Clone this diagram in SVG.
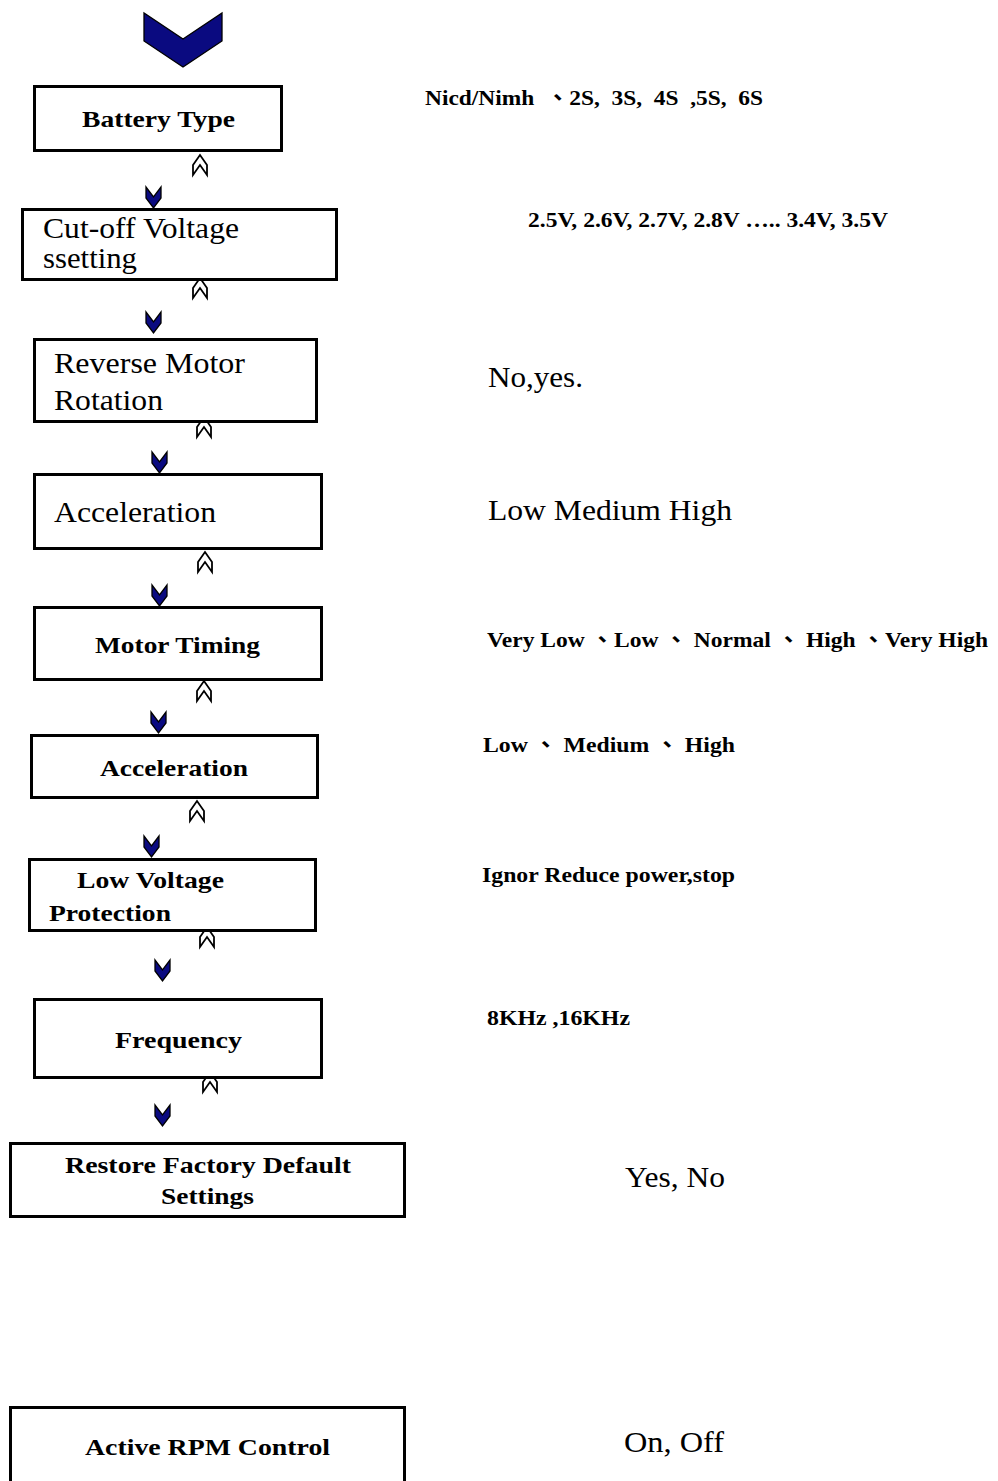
<svg xmlns="http://www.w3.org/2000/svg" width="998" height="1481" viewBox="0 0 998 1481">
<style>
text{font-family:"Liberation Serif","Noto Sans CJK TC",serif;fill:#000}
.b{font-weight:bold;font-size:23px}
.r{font-size:29px}
.ob{font-weight:bold;font-size:22px}
.or{font-size:30px}
.box{fill:#fff;stroke:#000;stroke-width:3}
.dn{fill:#0a0a80;stroke:#000;stroke-width:1.3}
.up{fill:#fff;stroke:#000;stroke-width:1.8}
</style>
<defs>
<polygon id="dchev" points="0,0 0,11 7.5,21 15,11 15,0 7.5,10"/>
<polygon id="uchev" points="0,20 0,10 7,0 14,10 14,20 7,10"/>
</defs>
<g id="connectors">
<polygon class="dn" points="144,13 144,41 183,67 222,41 222,13 183,39"/>
<use href="#uchev" class="up" x="193" y="155"/>
<use href="#uchev" class="up" x="193" y="278"/>
<use href="#uchev" class="up" x="197" y="417"/>
<use href="#uchev" class="up" x="198" y="552"/>
<use href="#uchev" class="up" x="197" y="681"/>
<use href="#uchev" class="up" x="190" y="801"/>
<use href="#uchev" class="up" x="200" y="927"/>
<use href="#uchev" class="up" x="203" y="1072"/>
<use href="#dchev" class="dn" x="146" y="187"/>
<use href="#dchev" class="dn" x="146" y="312"/>
<use href="#dchev" class="dn" x="152" y="452"/>
<use href="#dchev" class="dn" x="152" y="585"/>
<use href="#dchev" class="dn" x="151" y="712"/>
<use href="#dchev" class="dn" x="144" y="836"/>
<use href="#dchev" class="dn" x="155" y="960"/>
<use href="#dchev" class="dn" x="155" y="1105"/>
</g>
<g id="battery-type">
<rect class="box" x="34.5" y="86.5" width="247" height="64"/>
<text class="b" x="82" y="127" textLength="153" lengthAdjust="spacingAndGlyphs">Battery Type</text>
<text class="ob" x="425" y="105" textLength="338" lengthAdjust="spacingAndGlyphs" xml:space="preserve">Nicd/Nimh  、2S,  3S,  4S  ,5S,  6S</text>
</g>
<g id="cutoff-voltage">
<rect class="box" x="22.5" y="209.5" width="314" height="70"/>
<text class="r" x="43" y="238" textLength="196" lengthAdjust="spacingAndGlyphs">Cut-off Voltage</text>
<text class="r" x="43" y="268" textLength="94" lengthAdjust="spacingAndGlyphs">ssetting</text>
<text class="ob" x="528" y="227" textLength="360" lengthAdjust="spacingAndGlyphs">2.5V, 2.6V, 2.7V, 2.8V ….. 3.4V, 3.5V</text>
</g>
<g id="reverse-motor">
<rect class="box" x="34.5" y="339.5" width="282" height="82"/>
<text class="r" x="54" y="373" textLength="191" lengthAdjust="spacingAndGlyphs">Reverse Motor</text>
<text class="r" x="54" y="410" textLength="109" lengthAdjust="spacingAndGlyphs">Rotation</text>
<text class="or" x="488" y="387" textLength="95" lengthAdjust="spacingAndGlyphs">No,yes.</text>
</g>
<g id="acceleration-1">
<rect class="box" x="34.5" y="474.5" width="287" height="74"/>
<text class="r" x="54" y="522" textLength="162" lengthAdjust="spacingAndGlyphs">Acceleration</text>
<text class="or" x="488" y="520" textLength="244" lengthAdjust="spacingAndGlyphs">Low Medium High</text>
</g>
<g id="motor-timing">
<rect class="box" x="34.5" y="607.5" width="287" height="72"/>
<text class="b" x="95" y="653" textLength="165" lengthAdjust="spacingAndGlyphs">Motor Timing</text>
<text class="ob" x="487" y="647" textLength="501" lengthAdjust="spacingAndGlyphs" xml:space="preserve">Very Low 、Low 、 Normal 、 High 、Very High</text>
</g>
<g id="acceleration-2">
<rect class="box" x="31.5" y="735.5" width="286" height="62"/>
<text class="b" x="100" y="776" textLength="148" lengthAdjust="spacingAndGlyphs">Acceleration</text>
<text class="ob" x="483" y="752" textLength="252" lengthAdjust="spacingAndGlyphs" xml:space="preserve">Low 、 Medium 、 High</text>
</g>
<g id="low-voltage">
<rect class="box" x="29.5" y="859.5" width="286" height="71"/>
<text class="b" x="77" y="888" textLength="147" lengthAdjust="spacingAndGlyphs">Low Voltage</text>
<text class="b" x="49" y="921" textLength="122" lengthAdjust="spacingAndGlyphs">Protection</text>
<text class="ob" x="482" y="882" textLength="253" lengthAdjust="spacingAndGlyphs">Ignor Reduce power,stop</text>
</g>
<g id="frequency">
<rect class="box" x="34.5" y="999.5" width="287" height="78"/>
<text class="b" x="115" y="1048" textLength="127" lengthAdjust="spacingAndGlyphs">Frequency</text>
<text class="ob" x="487" y="1025" textLength="143" lengthAdjust="spacingAndGlyphs">8KHz ,16KHz</text>
</g>
<g id="restore-defaults">
<rect class="box" x="10.5" y="1143.5" width="394" height="73"/>
<text class="b" x="65" y="1173" textLength="286" lengthAdjust="spacingAndGlyphs">Restore Factory Default</text>
<text class="b" x="161" y="1204" textLength="93" lengthAdjust="spacingAndGlyphs">Settings</text>
<text class="or" x="625" y="1187" textLength="100" lengthAdjust="spacingAndGlyphs">Yes, No</text>
</g>
<g id="active-rpm">
<rect class="box" x="10.5" y="1407.5" width="394" height="100"/>
<text class="b" x="85" y="1455" textLength="245" lengthAdjust="spacingAndGlyphs">Active RPM Control</text>
<text class="or" x="624" y="1452" textLength="100" lengthAdjust="spacingAndGlyphs">On, Off</text>
</g>
</svg>
